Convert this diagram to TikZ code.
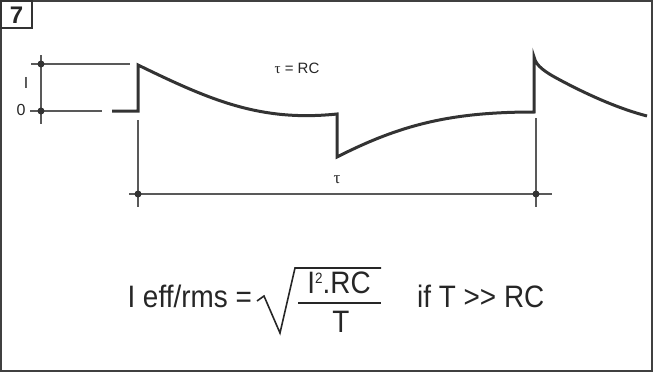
\documentclass[tikz,border=0pt]{standalone}
\usepackage{fontspec}
\setmainfont{Liberation Sans}
\newfontfamily\narrowsans[FakeStretch=0.9]{Liberation Sans}
\newfontfamily\greekserif{Liberation Serif}
\begin{document}
\begin{tikzpicture}[x=1pt,y=-1pt,
  wave/.style={draw=black!80, line width=3pt, line join=miter},
  axis/.style={draw=black!65, line width=1.1pt},
  dotmark/.style={circle, fill=black!80, inner sep=0pt, minimum size=7pt},
  lbl/.style={inner sep=0pt, text=black!85},
]
\useasboundingbox (0,0) rectangle (653,372);
% frame
\draw[draw=black!75, line width=2pt] (1,1) rectangle (652,371);
\draw[draw=black!80, line width=1.5pt] (1,1) rectangle (32,28);
\node[lbl, font=\bfseries\fontsize{24}{24}\selectfont] (num) at (16.5,15) {7};

% level axis
\coordinate (ytop) at (41,55);
\coordinate (ybot) at (41,124);
\draw[axis] (ytop) -- (ybot);
\coordinate (hI1) at (31,64);
\coordinate (hI2) at (130,64);
\coordinate (h01) at (30,111);
\coordinate (h02) at (102,111);
\draw[axis] (hI1) -- (hI2);
\draw[axis] (h01) -- (h02);
\node[dotmark] (dI) at (41,64) {};
\node[dotmark] (d0) at (41,111) {};
\node[lbl, font=\fontsize{16}{16}\selectfont, anchor=base] (labI) at (26,88) {I};
\node[lbl, font=\fontsize{16}{16}\selectfont, anchor=base] (lab0) at (21,115.5) {0};

% waveform
\coordinate (w0) at (112,111);
\coordinate (w1) at (138,111);
\coordinate (w2) at (138,65);
\coordinate (w3) at (337,114);
\coordinate (w4) at (337,157);
\coordinate (w5) at (534,112);
\coordinate (w6) at (534,57);
\coordinate (w7) at (560,80);
\coordinate (w8) at (647,116);
\draw[wave] (w0) -- (w1) -- (w2)
  .. controls (210,100) and (260,122) .. (w3)
  -- (w4)
  .. controls (400,125) and (450,112) .. (w5)
  -- (w6)
  .. controls (536,66) and (545,72) .. (w7)
  .. controls (590,96) and (620,109) .. (w8);

\node[lbl, font=\fontsize{15}{15}\selectfont, anchor=base] (eq) at (297,73) {{\greekserif τ} = RC};

% period
\coordinate (v1t) at (138,120);
\coordinate (v1b) at (138,207);
\coordinate (v2t) at (536,118);
\coordinate (v2b) at (536,207);
\coordinate (hl) at (129,194);
\coordinate (hr) at (552,194);
\draw[axis] (v1t) -- (v1b);
\draw[axis] (v2t) -- (v2b);
\draw[axis] (hl) -- (hr);
\node[dotmark] (dl) at (138,194) {};
\node[dotmark] (dr) at (536,194) {};
\node[lbl, font=\greekserif\fontsize{17}{17}\selectfont, anchor=base] (tau) at (337,183) {τ};

% formula
\begin{scope}[font=\narrowsans\fontsize{31}{31}\selectfont]
\node[lbl, anchor=base east] (lhs) at (252,307) {I eff/rms =};
\node[lbl, anchor=base] (numr) at (339,293) {I\raisebox{0.6ex}{\fontsize{15}{15}\selectfont 2}.RC};
\node[lbl, anchor=base] (den) at (341,332) {T};
\node[lbl, anchor=base west] (cond) at (417,307) {if T >{}> RC};
\end{scope}
\coordinate (s0) at (257,301);
\coordinate (s1) at (264,296);
\coordinate (s2) at (280,333);
\coordinate (s3) at (295,268);
\coordinate (s4) at (381,268);
\draw[draw=black!85, line width=1.6pt, line join=miter] (s0) -- (s1) -- (s2) -- (s3) -- (s4);
\coordinate (f1) at (298,303);
\coordinate (f2) at (381,303);
\draw[draw=black!85, line width=1.6pt] (f1) -- (f2);
\end{tikzpicture}
\end{document}
